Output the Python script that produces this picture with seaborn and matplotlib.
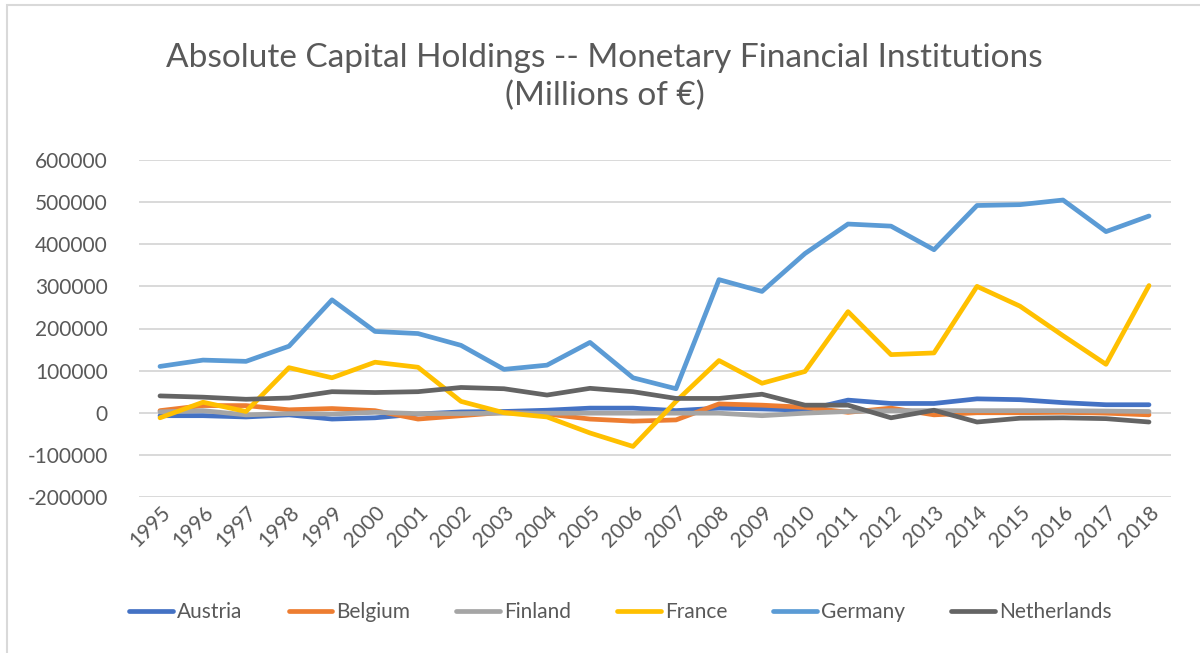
import matplotlib
matplotlib.use("Agg")
import matplotlib.pyplot as plt
import seaborn as sns
import pandas as pd
from matplotlib.patches import Rectangle

years = [str(y) for y in range(1995, 2019)]
austria = [-7000, -7000, -10000, -5000, -15000, -12000, -3000, 2000, 3000, 6000, 11000, 11000,
           5000, 11000, 9000, 6000, 30000, 22000, 22000, 33000, 31000, 24000, 19000, 19000]
belgium = [5000, 17000, 17000, 7000, 10000, 5000, -15000, -7000, 1000, -3000, -15000, -20000,
           -17000, 21000, 18000, 13000, 1000, 11000, -5000, 0, 0, 1000, -1000, -5000]
finland = [2000, 5000, -5000, -2000, -3000, 1000, -2000, -2000, -1000, -1000, -1000, -1000,
           -1000, -1000, -7000, -1000, 3000, 5000, 5000, 5000, 5000, 5000, 4000, 3000]
france = [-12000, 25000, 3000, 107000, 83000, 120000, 108000, 27000, 0, -10000, -48000, -80000,
          27000, 124000, 70000, 98000, 240000, 138000, 142000, 300000, 253000, 183000, 115000, 302000]
germany = [110000, 125000, 122000, 158000, 268000, 193000, 188000, 160000, 103000, 113000, 167000, 83000,
           57000, 316000, 288000, 378000, 448000, 443000, 387000, 492000, 494000, 505000, 430000, 467000]
netherlands = [40000, 37000, 32000, 35000, 50000, 48000, 50000, 60000, 57000, 42000, 58000, 50000,
               34000, 34000, 44000, 18000, 18000, -12000, 6000, -22000, -13000, -12000, -14000, -22000]

countries = ["Austria", "Belgium", "Finland", "France", "Germany", "Netherlands"]
series = [austria, belgium, finland, france, germany, netherlands]
colors = ["#4472C4", "#ED7D31", "#A5A5A5", "#FFC000", "#5B9BD5", "#646464"]
title = "Absolute Capital Holdings -- Monetary Financial Institutions\n(Millions of €)"

rows = []
for c, vals in zip(countries, series):
    for i, v in enumerate(vals):
        rows.append({"pos": i, "Year": years[i], "Country": c, "Value": v})
df = pd.DataFrame(rows)

sns.set_style("white")
plt.rcParams["font.family"] = ["Lato", "DejaVu Sans"]

fig = plt.figure(figsize=(12, 6.53), dpi=100)
ax = fig.add_axes([138.5 / 1200, 1 - 497 / 653, 1032 / 1200, 337 / 653])

sns.lineplot(data=df, x="pos", y="Value", hue="Country", hue_order=countries,
             palette=dict(zip(countries, colors)), linewidth=3.4, ax=ax,
             solid_capstyle="round", solid_joinstyle="round", legend=False)

ax.set_xlim(-0.5, len(years) - 0.5)
ax.set_ylim(-200000, 600000)
ax.set_yticks(range(-200000, 600001, 100000))
ax.set_yticklabels([str(v) for v in range(-200000, 600001, 100000)])
ax.set_xticks(range(len(years)))
ax.set_xticklabels(years, rotation=45, ha="right", rotation_mode="anchor")
ax.tick_params(axis="both", length=0, labelsize=15, labelcolor="#595959")
ax.tick_params(axis="y", pad=22)
ax.tick_params(axis="x", pad=4)
ax.set_xlabel("")
ax.set_ylabel("")
ax.yaxis.grid(True, color="#D9D9D9", linewidth=1.4)
ax.xaxis.grid(False)
ax.set_axisbelow(True)
for s in ax.spines.values():
    s.set_visible(False)

fig.text(0.504, 1 - 77 / 653, title, ha="center", va="center", fontsize=24,
         color="#595959", linespacing=1.3)

handles = [plt.Line2D([], [], color=col, linewidth=3.4, solid_capstyle="round") for col in colors]
fig.legend(handles, countries, loc="center", bbox_to_anchor=(0.517, 1 - 612 / 653), ncol=6,
           frameon=False, fontsize=15, labelcolor="#595959", handlelength=2.1,
           handletextpad=0.2, columnspacing=2.2)

fig.patches.append(Rectangle((7 / 1200, -0.1), 1.2, 1 - 5 / 653 + 0.1, transform=fig.transFigure,
                             fill=False, edgecolor="#D9D9D9", linewidth=1.5, zorder=0))

fig.savefig("out.png", dpi=100, facecolor="white")
